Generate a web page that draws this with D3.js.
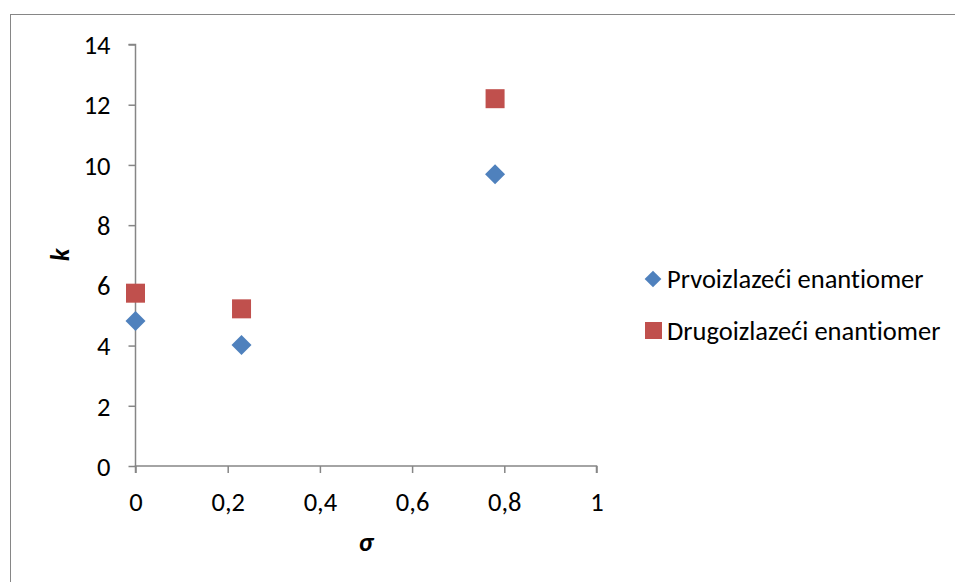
<!DOCTYPE html>
<html><head><meta charset="utf-8">
<script src="https://cdn.jsdelivr.net/npm/d3@7"></script>
<style>html,body{margin:0;padding:0;background:#fff;overflow:hidden} svg text{font-variant-ligatures:none}</style>
</head><body>
<script>
const seriesNames = ["Prvoizlazeći enantiomer", "Drugoizlazeći enantiomer"];
const sigma = [0, 0.23, 0.78];
const kFirst = [4.82, 4.02, 9.69];
const kSecond = [5.74, 5.22, 12.2];
const xTicks = [0, 0.2, 0.4, 0.6, 0.8, 1];
const yTicks = [0, 2, 4, 6, 8, 10, 12, 14];
const xTitle = "σ", yTitle = "k";

const W = 955, H = 582;
const font = "Calibri, Carlito, sans-serif";
const fs = "26.5px";
const svg = d3.select("body").append("svg").attr("width", W).attr("height", H)
  .style("font-family", font);

svg.append("rect").attr("x", 10.5).attr("y", 14.5).attr("width", W).attr("height", H)
  .attr("fill", "none").attr("stroke", "#868686").attr("stroke-width", 1);

const x = d3.scaleLinear().domain([0, 1]).range([135.5, 596.5]);
const y = d3.scaleLinear().domain([0, 14]).range([466, 44.5]);
const axisColor = "#868686";

const gx = svg.append("g").attr("transform", `translate(0,${y(0)})`)
  .call(d3.axisBottom(x).tickValues(xTicks).tickSize(7)
    .tickFormat(d => d3.format("")(d).replace(".", ",")));
const gy = svg.append("g").attr("transform", `translate(${x(0)},0)`)
  .call(d3.axisLeft(y).tickValues(yTicks).tickSize(7).tickPadding(18));
[gx, gy].forEach(g => {
  g.attr("font-family", null).attr("font-size", null);
  g.select(".domain").attr("stroke", axisColor).attr("stroke-width", 1.5);
  g.selectAll(".tick line").attr("stroke", axisColor).attr("stroke-width", 1.5);
  g.selectAll("text").attr("fill", "#000").style("font-size", fs).style("font-family", font);
});
gx.selectAll(".tick text").attr("y", 36).attr("dy", "0.35em");
gy.selectAll(".tick text").attr("dy", "0.35em");
gy.select(".domain").attr("d", `M-7,${y(14)}H0V${y(0)}`);
gx.select(".domain").attr("d", `M${x(0)},7V0H${x(1)}V7`);

svg.append("text").attr("x", 366).attr("y", 543).attr("text-anchor", "middle")
  .attr("dy", "0.3em")
  .style("font-size", fs).style("font-weight", "bold").style("font-style", "italic").text(xTitle);
svg.append("text").attr("transform", "translate(60,255) rotate(-90)").attr("text-anchor", "middle")
  .attr("dy", "0.35em")
  .style("font-size", fs).style("font-weight", "bold").style("font-style", "italic").text(yTitle);

const blue = "#4f81bd", red = "#c0504d";
const diamond = d3.symbol().type(d3.symbolSquare).size(200);
svg.append("g").selectAll("path").data(sigma).join("path")
  .attr("d", diamond)
  .attr("transform", (d, i) => `translate(${x(d)},${y(kFirst[i])}) rotate(45)`)
  .attr("fill", blue);
svg.append("g").selectAll("rect").data(sigma).join("rect")
  .attr("x", d => x(d) - 9.5).attr("y", (d, i) => y(kSecond[i]) - 9.5)
  .attr("width", 19).attr("height", 19).attr("fill", red);

// legend
const lg = svg.append("g");
lg.append("path").attr("d", d3.symbol().type(d3.symbolSquare).size(140))
  .attr("transform", "translate(653,279) rotate(45)").attr("fill", blue);
lg.append("rect").attr("x", 645).attr("y", 322).attr("width", 17).attr("height", 17).attr("fill", red);
lg.selectAll("text").data(seriesNames).join("text")
  .attr("x", 667).attr("y", (d, i) => 279 + i * 51.5)
  .attr("dy", "0.35em")
  .style("font-size", fs).text(d => d);
</script>
</body></html>
